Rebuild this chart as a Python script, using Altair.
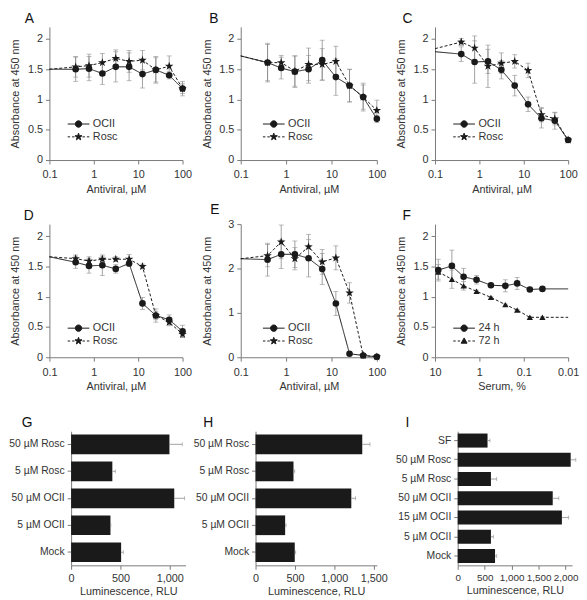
import altair as alt
import pandas as pd

FONT = "Liberation Sans"
INK = "#1a1a1a"
GREY = "#8a8a8a"
AXISC = "#7a7a7a"
TXT = "#333333"

# ---------------- data ----------------
conc = [0.1, 0.39, 0.78, 1.56, 3.125, 6.25, 12.5, 25, 50, 100]
conc_marker = [False, True, True, True, True, True, True, True, True, True]
serum = [8.45, 4.17, 2.27, 1.16, 0.55, 0.26, 0.141, 0.073, 0.038, 0.01]
serum_marker = [True, True, True, True, True, True, True, True, True, False]

A_ocii = [1.50, 1.50, 1.51, 1.43, 1.54, 1.54, 1.42, 1.49, 1.40, 1.18]
A_ocii_err = [0, 0.20, 0.20, 0.18, 0.25, 0.23, 0.23, 0.22, 0.06, 0.12]
A_rosc = [1.50, 1.54, 1.56, 1.61, 1.68, 1.63, 1.65, 1.49, 1.55, 1.18]
A_rosc_err = [0, 0.17, 0.19, 0.15, 0.14, 0.18, 0.16, 0.20, 0.17, 0.08]

B_ocii = [1.72, 1.61, 1.52, 1.46, 1.50, 1.65, 1.37, 1.23, 1.04, 0.68]
B_ocii_err = [0, 0.30, 0.18, 0.26, 0.23, 0.33, 0.30, 0.27, 0.23, 0.06]
B_rosc = [1.72, 1.61, 1.61, 1.47, 1.58, 1.58, 1.63, 1.23, 1.04, 0.82]
B_rosc_err = [0, 0.32, 0.12, 0.25, 0.27, 0.26, 0.25, 0.27, 0.20, 0.17]

C_ocii = [1.79, 1.75, 1.62, 1.63, 1.49, 1.23, 0.92, 0.69, 0.65, 0.33]
C_ocii_err = [0, 0.12, 0.35, 0.20, 0.15, 0.17, 0.12, 0.16, 0.14, 0.02]
C_rosc = [1.84, 1.95, 1.85, 1.55, 1.60, 1.63, 1.48, 0.75, 0.68, 0.33]
C_rosc_err = [0, 0.06, 0.20, 0.35, 0.17, 0.11, 0.12, 0.12, 0.10, 0.02]

D_ocii = [1.66, 1.57, 1.51, 1.52, 1.46, 1.55, 0.89, 0.69, 0.62, 0.43]
D_ocii_err = [0, 0.10, 0.12, 0.17, 0.07, 0.05, 0.10, 0.07, 0.08, 0.10]
D_rosc = [1.66, 1.63, 1.59, 1.62, 1.62, 1.62, 1.50, 0.69, 0.58, 0.38]
D_rosc_err = [0, 0.06, 0.07, 0.05, 0.04, 0.08, 0.04, 0.11, 0.06, 0.05]

E_ocii = [2.22, 2.20, 2.32, 2.32, 2.23, 1.99, 1.21, 0.08, 0.04, 0.01]
E_ocii_err = [0, 0.37, 0.32, 0.30, 0.42, 0.35, 0.27, 0, 0, 0]
E_rosc = [2.22, 2.29, 2.60, 2.22, 2.49, 2.15, 2.24, 1.45, 0.04, 0.01]
E_rosc_err = [0, 0.25, 0.38, 0.25, 0.28, 0.28, 0.27, 0.23, 0, 0]

F_24h = [1.44, 1.51, 1.33, 1.28, 1.19, 1.18, 1.22, 1.12, 1.13, 1.13]
F_24h_err = [0.18, 0.26, 0.14, 0.07, 0.02, 0.10, 0.10, 0.02, 0.01, 0]
F_72h = [1.41, 1.29, 1.18, 1.09, 0.99, 0.87, 0.78, 0.66, 0.66, 0.66]
F_72h_err = [0.12, 0.15, 0.07, 0.02, 0.01, 0.01, 0.01, 0.01, 0.01, 0]

G_cats = ["50 µM Rosc", "5 µM Rosc", "50 µM OCII", "5 µM OCII", "Mock"]
G_vals = [997, 418, 1046, 399, 507]
G_err = [130, 30, 104, 4, 22]

H_cats = ["50 µM Rosc", "5 µM Rosc", "50 µM OCII", "5 µM OCII", "Mock"]
H_vals = [1355, 482, 1216, 376, 498]
H_err = [98, 16, 53, 12, 12]

I_cats = ["SF", "50 µM Rosc", "5 µM Rosc", "50 µM OCII", "15 µM OCII", "5 µM OCII", "Mock"]
I_vals = [553, 2094, 616, 1761, 1931, 616, 692]
I_err = [45, 95, 107, 113, 126, 44, 31]

# ---------------- symbols ----------------
STAR = ("M0,-1L0.235,-0.324L0.951,-0.309L0.380,0.124L0.588,0.809L0,0.4"
        "L-0.588,0.809L-0.380,0.124L-0.951,-0.309L-0.235,-0.324Z")
LEG_CIRCLE = "M-3.4,0H1M-0.55,0A0.65,0.65 0 1,0 -1.85,0A0.65,0.65 0 1,0 -0.55,0Z"
LEG_STAR = ("M-3.4,0H-2.9M-2.5,0H-2.0M-0.4,0H0.1M0.5,0H1"
            "M-1.2,-0.75L-1.024,-0.243L-0.487,-0.232L-0.915,0.093L-0.759,0.607"
            "L-1.2,0.3L-1.641,0.607L-1.485,0.093L-1.913,-0.232L-1.376,-0.243Z")
LEG_TRI = "M-3.4,0H-2.9M-2.5,0H-2.0M-0.4,0H0.1M0.5,0H1M-1.2,-0.62L-0.6,0.45L-1.8,0.45Z"


def ttl(letter, dx):
    return alt.TitleParams(letter, anchor="start", frame="group", fontSize=14,
                           fontWeight="normal", font=FONT, color="#111111",
                           dx=dx, offset=1)


def curve_panel(letter, dx, xs, marks, series, y_dom, y_vals, x_dom, x_vals, x_title,
                reverse, leg_x, leg_y, w, h):
    xscale = alt.Scale(type="log", domain=x_dom, nice=False, reverse=reverse)
    yscale = alt.Scale(domain=y_dom, nice=False, zero=False)
    xaxis = alt.Axis(values=x_vals, format="~g", title=x_title, labelPadding=5,
                     titlePadding=4)
    yaxis = alt.Axis(values=y_vals, format="~g", title="Absorbance at 450 nm",
                     minExtent=24, maxExtent=24, titlePadding=5)
    X = alt.X("x:Q", scale=xscale, axis=xaxis)
    errs, lines, pts = [], [], []
    for name, vals, err, dash, shape, size, _ in series:
        df = pd.DataFrame({"x": xs, "y": vals, "e": err, "m": marks})
        df["lo"] = df["y"] - df["e"]
        df["hi"] = df["y"] + df["e"]
        edf = df[(df["m"]) & (df["e"] > 0)]
        errs.append(
            alt.Chart(edf).mark_errorbar(ticks=True, color=GREY, size=5, thickness=0.8)
            .encode(x=X, y=alt.Y("lo:Q", scale=yscale, axis=yaxis), y2="hi:Q")
        )
        lines.append(
            alt.Chart(df).mark_line(color=INK, strokeWidth=1, strokeDash=dash)
            .encode(x=X, y=alt.Y("y:Q", scale=yscale, axis=yaxis))
        )
        pts.append(
            alt.Chart(df[df["m"]]).mark_point(shape=shape, size=size, filled=True,
                                              color=INK, opacity=1)
            .encode(x=X, y=alt.Y("y:Q", scale=yscale, axis=yaxis))
        )
    names = [s[0] for s in series]
    paths = [s[6] for s in series]
    leg = alt.Chart(pd.DataFrame({"s": names})).mark_point(
        filled=True, fill=INK, stroke=INK, strokeWidth=1, opacity=0, size=100
    ).encode(
        shape=alt.Shape("s:N", scale=alt.Scale(domain=names, range=paths),
                        legend=alt.Legend(title=None, orient="none", legendX=leg_x,
                                          legendY=leg_y, symbolSize=100, symbolOpacity=1,
                                          symbolStrokeWidth=1, labelOffset=3,
                                          rowPadding=1, padding=0,
                                          labelFont=FONT, labelFontSize=11,
                                          labelColor=TXT))
    )
    return alt.layer(*errs, *lines, *pts, leg).properties(
        width=w, height=h, title=ttl(letter, dx)
    )


def bar_panel(letter, dx, cats, vals, errs, x_dom, x_vals, w, h, xlab=11, shift=0):
    df = pd.DataFrame({"c": cats, "v": vals, "e": errs})
    df["hi"] = df["v"] + df["e"]
    yenc = alt.Y("c:N", sort=cats, title=None,
                 scale=alt.Scale(paddingInner=0.27, paddingOuter=0.12),
                 axis=alt.Axis(labelPadding=3, labelFontSize=10.5, offset=-shift))
    if shift:
        xscale = alt.Scale(domain=x_dom, nice=False, zero=True, range=[shift, shift + w])
    else:
        xscale = alt.Scale(domain=x_dom, nice=False, zero=True)
    xaxis = alt.Axis(values=x_vals, format=",.0f", title="Luminescence, RLU",
                     labelFontSize=xlab)
    bars = alt.Chart(df).mark_bar(color=INK).encode(
        x=alt.X("v:Q", scale=xscale, axis=xaxis), y=yenc)
    rule = alt.Chart(df).mark_rule(color=GREY, strokeWidth=0.8).encode(
        x=alt.X("v:Q", scale=xscale, axis=xaxis), x2="hi:Q", y=yenc)
    cap = alt.Chart(df).mark_tick(color=GREY, thickness=0.8, size=4).encode(
        x=alt.X("hi:Q", scale=xscale, axis=xaxis), y=yenc)
    return alt.layer(bars, rule, cap).properties(
        width=w + shift, height=h, title=ttl(letter, dx)
    )


def two(n1, v1, e1, n2, v2, e2, shape2=STAR, size2=81, path2=LEG_STAR):
    return [
        (n1, v1, e1, [1, 0], "circle", 45, LEG_CIRCLE),
        (n2, v2, e2, [3, 2], shape2, size2, path2),
    ]


def indep(c):
    return c.resolve_scale(shape="independent").resolve_legend(shape="independent")


H = 135
ydom, yv = [0, 2.2], [0, 0.5, 1, 1.5, 2]
xd, xv = [0.1, 100], [0.1, 1, 10, 100]
AV = "Antiviral, µM"

pA = curve_panel("A", -25, conc, conc_marker, two("OCII", A_ocii, A_ocii_err, "Rosc", A_rosc, A_rosc_err),
                 ydom, yv, xd, xv, AV, False, 30, 93, 135, H)
pB = curve_panel("B", -32, conc, conc_marker, two("OCII", B_ocii, B_ocii_err, "Rosc", B_rosc, B_rosc_err),
                 ydom, yv, xd, xv, AV, False, 34, 93, 138, H)
pC = curve_panel("C", -33, conc, conc_marker, two("OCII", C_ocii, C_ocii_err, "Rosc", C_rosc, C_rosc_err),
                 ydom, yv, xd, xv, AV, False, 30, 93, 135, H)
pD = curve_panel("D", -26, conc, conc_marker, two("OCII", D_ocii, D_ocii_err, "Rosc", D_rosc, D_rosc_err),
                 ydom, yv, xd, xv, AV, False, 30, 100, 135, H)
pE = curve_panel("E", -31, conc, conc_marker, two("OCII", E_ocii, E_ocii_err, "Rosc", E_rosc, E_rosc_err),
                 [0, 3], [0, 1, 2, 3], xd, xv, AV, False, 34, 100, 138, H)
pF = curve_panel("F", -33, serum, serum_marker,
                 two("24 h", F_24h, F_24h_err, "72 h", F_72h, F_72h_err,
                     shape2="triangle-up", size2=40, path2=LEG_TRI),
                 ydom, yv, [0.01, 10], [10, 1, 0.1, 0.01], "Serum, %", True, 30, 100, 135, H)

pG = bar_panel("G", -28, G_cats, G_vals, G_err, [0, 1160], [0, 500, 1000], 116, 136, shift=22)
pH = bar_panel("H", -53, H_cats, H_vals, H_err, [0, 1540], [0, 500, 1000, 1500], 123, 136)
pI = bar_panel("I", -53, I_cats, I_vals, I_err, [0, 2120], [0, 500, 1000, 1500, 2000], 116, 136,
               xlab=10)

row1 = indep(alt.hconcat(pA, pB, pC, spacing=9))
row2 = indep(alt.hconcat(pD, pE, pF, spacing=9))
row3 = alt.hconcat(pG, pH, pI, spacing=7)
top = indep(alt.concat(row1, row2, columns=1, align="none", spacing=9))
chart = indep(alt.concat(top, row3, columns=1, align="none", spacing=25)).properties(
    padding={"left": 0, "top": 0, "right": 0, "bottom": 0}
).configure_view(stroke=None).configure_axis(
    grid=False, domainColor=AXISC, tickColor=AXISC, tickSize=4, domainWidth=1,
    tickWidth=1, labelFont=FONT, labelFontSize=11, labelColor=TXT, labelPadding=3,
    titleFont=FONT, titleFontSize=11, titleFontWeight="normal", titleColor=TXT,
    titlePadding=3, labelFlush=False, labelOverlap=False
)

chart.save("out.html", embed_options={"renderer": "svg", "actions": False})
